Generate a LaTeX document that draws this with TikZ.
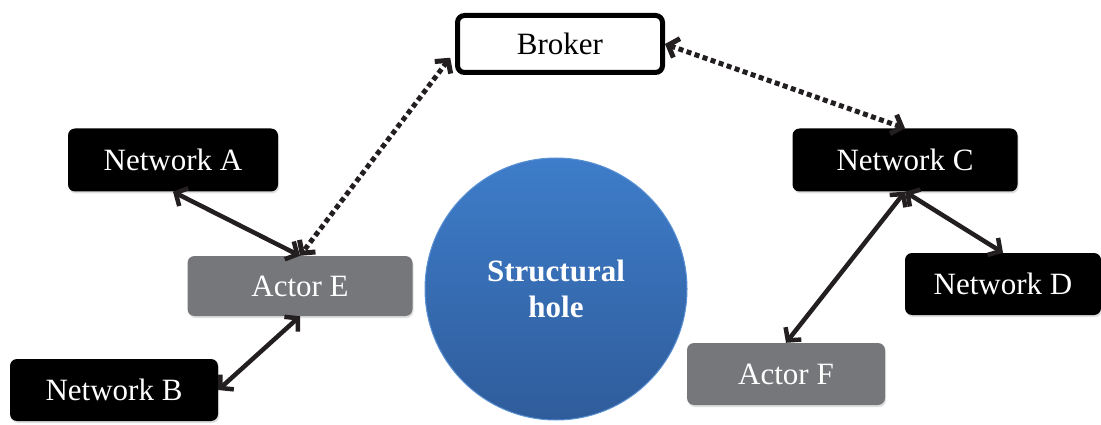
\documentclass[tikz,border=0pt]{standalone}
\usepackage{fontspec}
\setmainfont{Liberation Serif}
\usetikzlibrary{arrows.meta,shadows}
\definecolor{actorgray}{HTML}{76777B}
\definecolor{holetop}{HTML}{3E7DCA}
\definecolor{holebot}{HTML}{2F5C9B}
\definecolor{linkcol}{HTML}{231F20}

\begin{document}
\begin{tikzpicture}[x=1pt,y=-1pt,
  box/.style={rounded corners=7pt, inner sep=0pt, font=\fontsize{31}{36}\selectfont,
    drop shadow={opacity=0.25, shadow xshift=1pt, shadow yshift=-2pt}},
  net/.style={box, fill=black, text=white},
  actor/.style={box, fill=actorgray, text=white},
  link/.style={line width=4.5pt, draw=linkcol,
    {Straight Barb[length=9pt,width=20pt]}-{Straight Barb[length=9pt,width=20pt]}},
  brokerlink/.style={link, line width=5pt, dash pattern=on 5pt off 3.5pt}]

  \useasboundingbox (0,0) rectangle (1101,425);

  % the hole
  \node[circle, minimum size=262pt, inner sep=0pt, top color=holetop, bottom color=holebot,
    draw=holetop!85!white, line width=1pt, text=white, align=center,
    font=\fontsize{31}{36}\selectfont\bfseries] (hole) at (556,289) {Structural\\hole};

  % boxes
  \node[box, draw=black, line width=5pt, fill=white, minimum width=205pt, minimum height=57pt]
    (broker) at (560,44) {Broker};
  \node[net, minimum width=210pt, minimum height=63pt] (netA) at (173,160) {Network A};
  \node[net, minimum width=208pt, minimum height=62pt] (netB) at (114,390) {Network B};
  \node[net, minimum width=225pt, minimum height=63pt] (netC) at (905,160) {Network C};
  \node[net, minimum width=196pt, minimum height=62pt] (netD) at (1003,284) {Network D};
  \node[actor, minimum width=225pt, minimum height=60pt] (actE) at (300,286) {Actor E};
  \node[actor, minimum width=198pt, minimum height=62pt] (actF) at (786,374) {Actor F};

  % ties
  \draw[brokerlink, shorten <=8pt] (broker.184) -- (actE.north);
  \draw[brokerlink] (broker.east) -- (netC.north);
  \draw[link] (netA.south) -- (actE.north);
  \draw[link] (netB.east) -- (actE.south);
  \draw[link] (netC.south) -- (actF.north);
  \draw[link] (netC.south) -- (netD.north);

\end{tikzpicture}
\end{document}
